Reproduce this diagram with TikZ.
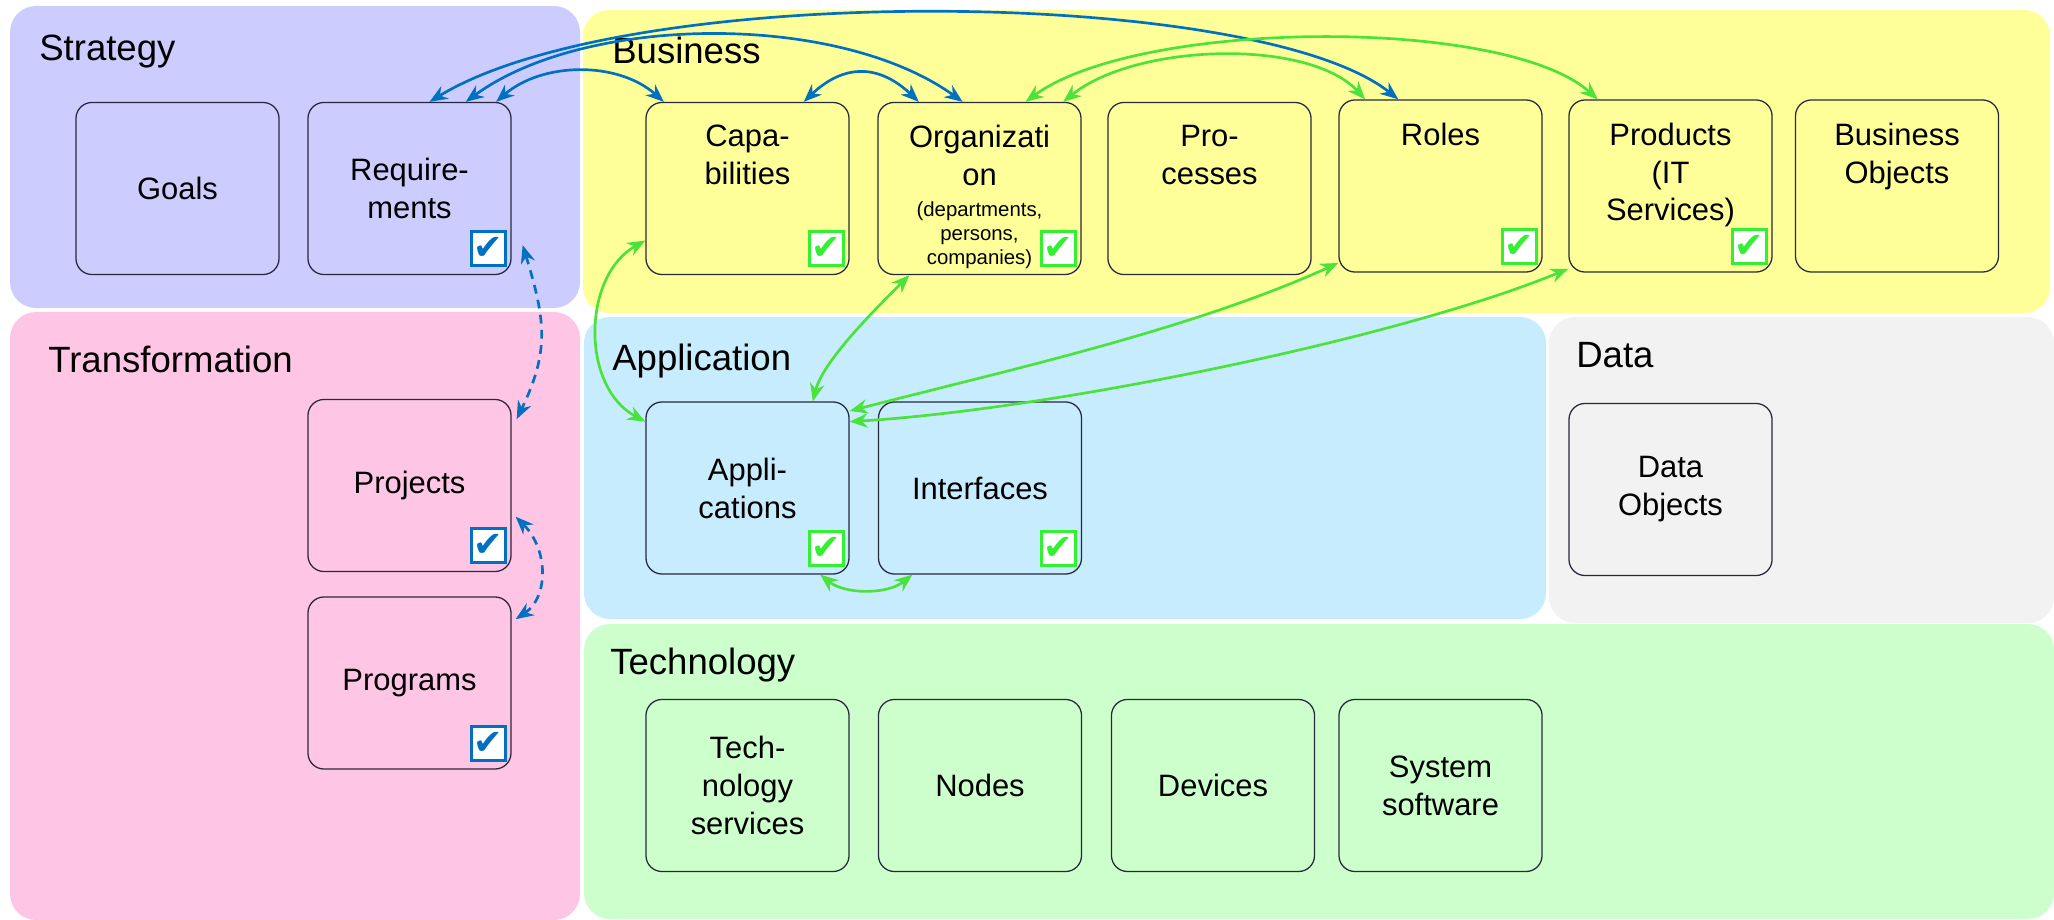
\documentclass[tikz,border=0pt]{standalone}
\usepackage{fontspec}
\setmainfont{Liberation Sans}
\newfontfamily\tickfamily{DejaVu Sans}
\usepackage{tikz}
\usetikzlibrary{arrows.meta,positioning}
\usepackage{xcolor}

\definecolor{strategyfill}{RGB}{204,204,255}
\definecolor{businessfill}{RGB}{255,255,153}
\definecolor{transffill}{RGB}{255,197,229}
\definecolor{appfill}{RGB}{198,236,253}
\definecolor{datafill}{RGB}{242,242,242}
\definecolor{techfill}{RGB}{204,255,204}
\definecolor{linkblue}{RGB}{0,112,192}
\definecolor{linkgreen}{RGB}{76,226,60}
\definecolor{tickgreen}{RGB}{51,240,51}
\definecolor{boxline}{RGB}{40,40,60}

\newcommand{\boxfont}{\fontsize{22}{27}\selectfont}
\newcommand{\notefont}{\fontsize{14.5}{17}\selectfont}
\newcommand{\layerfont}{\fontsize{26}{30}\selectfont}

\tikzset{
  layer/.style={rounded corners=0.65cm},
  layertitle/.style={anchor=base west, inner sep=0pt, font=\layerfont},
  block/.style={draw=boxline, line width=0.9pt, rounded corners=0.4cm,
    minimum width=5.075cm, minimum height=4.3cm, inner sep=0pt,
    align=center, font=\boxfont},
  blocktext/.style={inner sep=0pt, align=center, font=\boxfont},
  notetext/.style={inner sep=0pt, align=center, font=\notefont},
  tickbox/.style={draw=#1, text=#1, fill=white, line width=2.2pt,
    minimum size=0.85cm, inner sep=0pt, anchor=south east,
    font=\tickfamily\fontsize{25}{25}\selectfont},
  bluelink/.style={draw=linkblue, line width=1.9pt,
    {Stealth[length=0.45cm,width=0.36cm]}-{Stealth[length=0.45cm,width=0.36cm]}},
  bluedash/.style={bluelink, dash pattern=on 0.22cm off 0.16cm},
  greenlink/.style={draw=linkgreen, line width=1.9pt,
    {Stealth[length=0.45cm,width=0.36cm]}-{Stealth[length=0.45cm,width=0.36cm]}}
}

\begin{document}
\begin{tikzpicture}[x=0.025cm, y=-0.025cm]
    \useasboundingbox (0,0) rectangle (2054,920);

    % layers
    \fill[strategyfill, layer] (10,6) rectangle (580,308);
    \fill[businessfill, layer] (583,10) rectangle (2050,313);
    \fill[transffill, layer] (10,312) rectangle (580,920);
    \fill[appfill, layer] (584,317) rectangle (1546,619);
    \fill[datafill, layer] (1549,317) rectangle (2054,623);
    \fill[techfill, layer] (584,624) rectangle (2054,919);

    \node[layertitle] (strategytitle) at (39,61) {Strategy};
    \node[layertitle] (businesstitle) at (612,64) {Business};
    \node[layertitle] (transftitle) at (48,372) {Transformation};
    \node[layertitle] (apptitle) at (612,370) {Application};
    \node[layertitle] (datatitle) at (1576,367) {Data};
    \node[layertitle] (techtitle) at (610,674) {Technology};

    % strategy
    \node[block] (goals) at (177.5,188.5) {Goals};
    \node[block] (req) at (409.5,188.5) {Require-\\ments};

    % business
    \node[block] (caps) at (747.5,188.5) {};
    \node[blocktext, below=0.575cm of caps.north] (capstext) {Capa-\\bilities};
    \node[block] (org) at (979.5,188.5) {};
    \node[blocktext, below=0.575cm of org.north] (orgtext) {Organizati\\on};
    \node[notetext, below=2.5cm of org.north] (orgnote) {(departments,\\persons,\\companies)};
    \node[block] (proc) at (1209.5,188.5) {};
    \node[blocktext, below=0.575cm of proc.north] (proctext) {Pro-\\cesses};
    \node[block] (roles) at (1440.5,186) {};
    \node[blocktext, below=0.575cm of roles.north] (rolestext) {Roles};
    \node[block] (prod) at (1670.5,186) {};
    \node[blocktext, below=0.575cm of prod.north] (prodtext) {Products\\(IT\\Services)};
    \node[block] (bobj) at (1897,186) {};
    \node[blocktext, below=0.575cm of bobj.north] (bobjtext) {Business\\Objects};

    % transformation
    \node[block] (proj) at (409.5,485.5) {Projects};
    \node[block] (progr) at (409.5,683) {Programs};

    % application and data
    \node[block] (apps) at (747.5,488) {Appli-\\cations};
    \node[block] (intf) at (980,488) {Interfaces};
    \node[block] (dobj) at (1670.5,489.5) {Data\\Objects};

    % technology
    \node[block] (tserv) at (747.5,785.5) {Tech-\\nology\\services};
    \node[block] (nodes) at (980,785.5) {Nodes};
    \node[block] (devs) at (1213,785.5) {Devices};
    \node[block] (syssw) at (1440.5,785.5) {System\\software};

    % ticks
    \node[tickbox=linkblue] (reqtick) at ([xshift=-0.125cm, yshift=0.2cm]req.south east) {✔};
    \node[tickbox=linkblue] (projtick) at ([xshift=-0.125cm, yshift=0.2cm]proj.south east) {✔};
    \node[tickbox=linkblue] (progrtick) at ([xshift=-0.125cm, yshift=0.2cm]progr.south east) {✔};
    \node[tickbox=tickgreen] (capstick) at ([xshift=-0.125cm, yshift=0.2cm]caps.south east) {✔};
    \node[tickbox=tickgreen] (orgtick) at ([xshift=-0.125cm, yshift=0.2cm]org.south east) {✔};
    \node[tickbox=tickgreen] (rolestick) at ([xshift=-0.125cm, yshift=0.2cm]roles.south east) {✔};
    \node[tickbox=tickgreen] (prodtick) at ([xshift=-0.125cm, yshift=0.2cm]prod.south east) {✔};
    \node[tickbox=tickgreen] (appstick) at ([xshift=-0.125cm, yshift=0.2cm]apps.south east) {✔};
    \node[tickbox=tickgreen] (intftick) at ([xshift=-0.125cm, yshift=0.2cm]intf.south east) {✔};

    % blue links
    \draw[bluelink] (req.77) .. controls +(200,-122) and +(-140,-112) .. (roles.116);
    \draw[bluelink] (req.57) .. controls +(120,-88) and +(-125,-90) .. (org.101);
    \draw[bluelink] (req.45) .. controls +(46,-40) and +(-46,-41) .. (caps.134);
    \draw[bluelink] (caps.57) .. controls +(40,-38) and +(-40,-38) .. (org.125);
    \draw[bluedash] ([xshift=0.275cm]req.-29) .. controls +(23,75) and +(33,-68) .. ([xshift=0.125cm]proj.33);
    \draw[bluedash] ([xshift=0.1cm]proj.-17) .. controls +(33,33) and +(33,-22) .. ([xshift=0.1cm]progr.32);

    % green links
    \draw[greenlink] (org.62) .. controls +(113,-83) and +(-93,-83) .. (prod.130);
    \draw[greenlink] (org.46) .. controls +(73,-59) and +(-56,-61) .. (roles.131);
    \draw[greenlink] (caps.207) .. controls +(-63,35) and +(-65,-35) .. (apps.147);
    \draw[greenlink] (org.231) .. controls +(-35,35) and +(10,-40) .. (apps.53);
    \draw[greenlink] (apps.37) .. controls +(150,-39) and +(-150,68) .. (roles.217);
    \draw[greenlink] (apps.33) .. controls +(200,-12) and +(-170,70) .. (prod.219);
    \draw[greenlink] (apps.-50) .. controls +(25,20) and +(-25,20) .. (intf.232);
\end{tikzpicture}
\end{document}
